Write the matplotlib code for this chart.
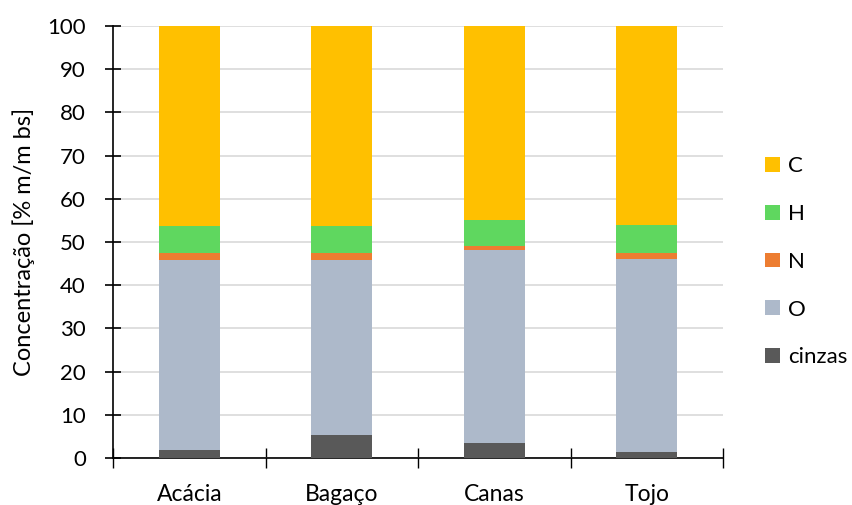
import matplotlib.pyplot as plt
import numpy as np
from matplotlib.patches import Patch

plt.rcParams['font.family'] = ['Lato', 'DejaVu Sans']

# dados
amostras = ['Acácia', 'Bagaço', 'Canas', 'Tojo']
cinzas = [1.9, 5.3, 3.5, 1.3]
O = [44.0, 40.6, 44.7, 44.8]
N = [1.5, 1.5, 0.9, 1.4]
H = [6.4, 6.4, 6.1, 6.5]
C = [46.2, 46.2, 44.8, 46.0]

series = [('cinzas', cinzas, '#595959'),
          ('O', O, '#ADB9CA'),
          ('N', N, '#ED7D31'),
          ('H', H, '#5FD75F'),
          ('C', C, '#FFC000')]

fig = plt.figure(figsize=(8.53, 5.05), dpi=100)
ax = fig.add_axes([0.1325, 0.0931, 0.7151, 0.8554])

x = np.arange(len(amostras))
bottom = np.zeros(len(amostras))
for nome, vals, cor in series:
    ax.bar(x, vals, 0.4, bottom=bottom, color=cor, label=nome, zorder=3)
    bottom += np.array(vals)

ax.set_xlim(-0.5, len(amostras) - 0.5)
ax.set_ylim(0, 100)
ax.set_yticks(np.arange(0, 101, 10))
ax.yaxis.grid(True, color='#D9D9D9', linewidth=1.2, zorder=0)
ax.tick_params(axis='y', direction='inout', length=11, width=1.2, labelsize=16, pad=14)

ax.set_xticks(x)
ax.set_xticklabels(amostras, fontsize=16.5)
ax.tick_params(axis='x', which='major', length=0, pad=19)
ax.set_xticks(np.arange(-0.5, len(amostras)), minor=True)
ax.tick_params(axis='x', which='minor', direction='inout', length=14, width=1.0)

for s in ['top', 'right']:
    ax.spines[s].set_visible(False)
ax.spines['left'].set_linewidth(1.2)
ax.spines['bottom'].set_linewidth(1.2)

ax.set_ylabel('Concentração [% m/m bs]', fontsize=17)
ax.yaxis.set_label_coords(-0.128, 0.5)

handles = [Patch(facecolor=cor, label=nome) for nome, _, cor in series[::-1]]
ax.legend(handles=handles, loc='center left', bbox_to_anchor=(1.055, 0.454),
          frameon=False, fontsize=16, handlelength=0.65, handleheight=0.65,
          handletextpad=0.35, labelspacing=1.25, borderaxespad=0)

fig.savefig('out.png', dpi=100)
